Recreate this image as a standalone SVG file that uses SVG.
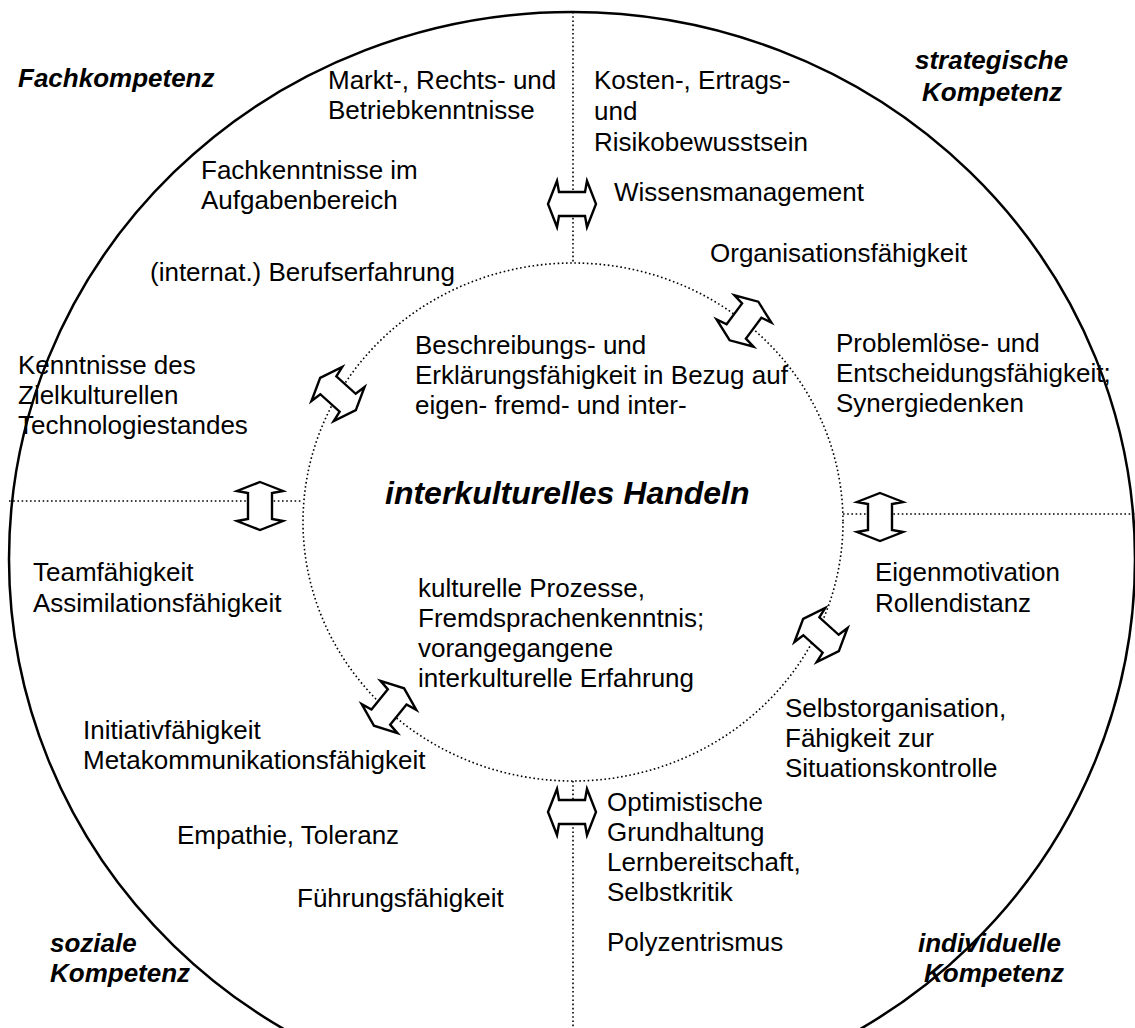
<svg xmlns="http://www.w3.org/2000/svg" width="1135" height="1028" viewBox="0 0 1135 1028">
<style>
.t{font-family:"Liberation Sans",Arial,sans-serif;font-size:26px;fill:#000}
.b{font-family:"Liberation Sans",Arial,sans-serif;font-size:26px;font-weight:bold;font-style:italic;fill:#000}
.c{font-family:"Liberation Sans",Arial,sans-serif;font-size:32px;font-weight:bold;font-style:italic;fill:#000}
.dot{fill:none;stroke:#000;stroke-width:1.6;stroke-dasharray:1.6 2.6}
.arr{fill:#fff;stroke:#000;stroke-width:2.4;stroke-linejoin:miter}
</style>
<defs>
<polygon id="da" points="-24,0 -15,-23 -13,-12 13,-12 15,-23 24,0 15,23 13,12 -13,12 -15,23"/>
</defs>
<rect width="1135" height="1028" fill="#fff"/>
<g id="outer">
<ellipse cx="572" cy="559" rx="563" ry="547" fill="none" stroke="#000" stroke-width="2.5"/>
</g>
<g id="connectors">
<ellipse class="dot" cx="573" cy="522" rx="270" ry="259"/>
<line class="dot" x1="573" y1="12" x2="573" y2="263"/>
<line class="dot" x1="573" y1="781" x2="573" y2="1028"/>
<line class="dot" x1="9" y1="501" x2="303" y2="501"/>
<line class="dot" x1="843" y1="514" x2="1135" y2="514"/>
<use href="#da" class="arr" transform="translate(572,204)"/>
<use href="#da" class="arr" transform="translate(572,812)"/>
<use href="#da" class="arr" transform="translate(260,506) rotate(90)"/>
<use href="#da" class="arr" transform="translate(880,517) rotate(90)"/>
<use href="#da" class="arr" transform="translate(744,321) rotate(-53.5)"/>
<use href="#da" class="arr" transform="translate(389,707) rotate(-51)"/>
<use href="#da" class="arr" transform="translate(338,394) rotate(42)"/>
<use href="#da" class="arr" transform="translate(821,635) rotate(42)"/>
</g>
<g id="labels">
<text class="b" x="18" y="87">Fachkompetenz</text>
<text class="b" x="915" y="69">strategische</text>
<text class="b" x="922" y="101">Kompetenz</text>
<text class="b" x="50" y="952">soziale</text>
<text class="b" x="50" y="982">Kompetenz</text>
<text class="b" x="918" y="952">individuelle</text>
<text class="b" x="924" y="982">Kompetenz</text>
</g>
<g id="center">
<text class="c" x="385" y="504">interkulturelles Handeln</text>
</g>
<g id="n-markt"><text class="t" x="328" y="89">Markt-, Rechts- und</text><text class="t" x="328" y="119">Betriebkenntnisse</text></g>
<g id="n-kosten"><text class="t" x="594" y="89">Kosten-, Ertrags-</text><text class="t" x="594" y="120">und</text><text class="t" x="594" y="151">Risikobewusstsein</text></g>
<g id="n-fach"><text class="t" x="201" y="179">Fachkenntnisse im</text><text class="t" x="201" y="209">Aufgabenbereich</text></g>
<g id="n-wissen"><text class="t" x="614" y="201">Wissensmanagement</text></g>
<g id="n-org"><text class="t" x="710" y="262">Organisationsfähigkeit</text></g>
<g id="n-beruf"><text class="t" x="150" y="281">(internat.) Berufserfahrung</text></g>
<g id="n-problem"><text class="t" x="836" y="352">Problemlöse- und</text><text class="t" x="836" y="382">Entscheidungsfähigkeit;</text><text class="t" x="836" y="412">Synergiedenken</text></g>
<g id="n-kenntnisse"><text class="t" x="18" y="374">Kenntnisse des</text><text class="t" x="18" y="404">Zielkulturellen</text><text class="t" x="18" y="434">Technologiestandes</text></g>
<g id="n-beschreibung"><text class="t" x="415" y="354">Beschreibungs- und</text><text class="t" x="415" y="384">Erklärungsfähigkeit in Bezug auf</text><text class="t" x="415" y="414">eigen- fremd- und inter-</text></g>
<g id="n-team"><text class="t" x="33" y="581">Teamfähigkeit</text><text class="t" x="33" y="612">Assimilationsfähigkeit</text></g>
<g id="n-eigen"><text class="t" x="875" y="581">Eigenmotivation</text><text class="t" x="875" y="612">Rollendistanz</text></g>
<g id="n-kulturell"><text class="t" x="418" y="597">kulturelle Prozesse,</text><text class="t" x="418" y="627">Fremdsprachenkenntnis;</text><text class="t" x="418" y="657">vorangegangene</text><text class="t" x="418" y="687">interkulturelle Erfahrung</text></g>
<g id="n-selbst"><text class="t" x="785" y="717">Selbstorganisation,</text><text class="t" x="785" y="747">Fähigkeit zur</text><text class="t" x="785" y="777">Situationskontrolle</text></g>
<g id="n-initiativ"><text class="t" x="83" y="739">Initiativfähigkeit</text><text class="t" x="83" y="769">Metakommunikationsfähigkeit</text></g>
<g id="n-optim"><text class="t" x="607" y="811">Optimistische</text><text class="t" x="607" y="841">Grundhaltung</text><text class="t" x="607" y="871">Lernbereitschaft,</text><text class="t" x="607" y="901">Selbstkritik</text></g>
<g id="n-empathie"><text class="t" x="177" y="844">Empathie, Toleranz</text></g>
<g id="n-fuehrung"><text class="t" x="297" y="907">Führungsfähigkeit</text></g>
<g id="n-poly"><text class="t" x="607" y="951">Polyzentrismus</text></g>
</svg>
